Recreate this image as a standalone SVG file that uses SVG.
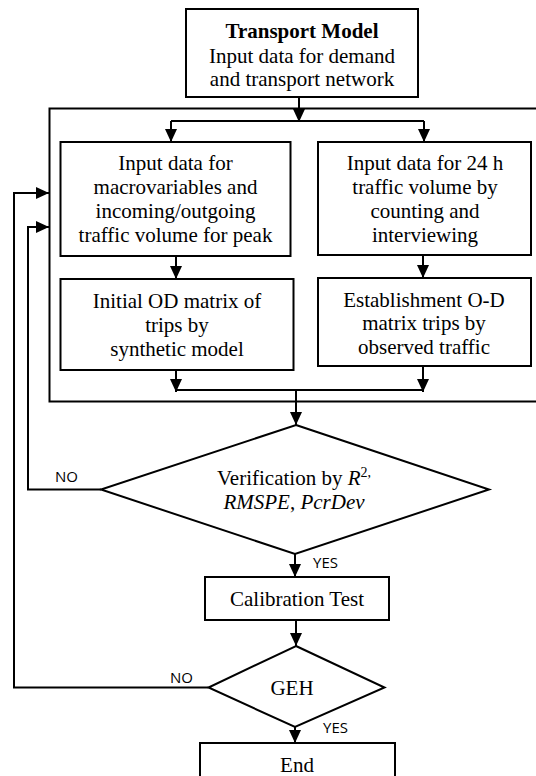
<svg xmlns="http://www.w3.org/2000/svg" width="536" height="776" viewBox="0 0 536 776">
<defs>
<style>
.box{fill:#fff;stroke:#000;stroke-width:2}
.frame{fill:none;stroke:#000;stroke-width:2}
.t{font-family:"Liberation Serif","Times New Roman",serif;font-size:21px;fill:#000;text-anchor:middle}
.b{font-weight:bold}
.i{font-style:italic}
.lbl{font-family:"Open Sans","Liberation Sans",sans-serif;font-size:15px;fill:#000}
.c{fill:none;stroke:#000;stroke-width:2}
</style>
<marker id="ah" markerUnits="userSpaceOnUse" markerWidth="13" markerHeight="12" refX="13" refY="6" orient="auto">
<path d="M0,0 L13,6 L0,12 z" fill="#000"/>
</marker>
</defs>
<rect width="536" height="776" fill="#fff"/>

<g id="frame">
<rect class="frame" x="49.5" y="108.5" width="500" height="293"/>
</g>

<g id="connectors">
<path class="c" d="M299,97 V122" marker-end="url(#ah)"/>
<path class="c" d="M171,121 H424"/>
<path class="c" d="M171,121 V142" marker-end="url(#ah)"/>
<path class="c" d="M424,121 V142" marker-end="url(#ah)"/>
<path class="c" d="M176,256 V279" marker-end="url(#ah)"/>
<path class="c" d="M423,255 V278" marker-end="url(#ah)"/>
<path class="c" d="M176,370 V392" marker-end="url(#ah)"/>
<path class="c" d="M423,366 V392" marker-end="url(#ah)"/>
<path class="c" d="M176,390 H423"/>
<path class="c" d="M296,390 V425" marker-end="url(#ah)"/>
<path class="c" d="M295,554 V577" marker-end="url(#ah)"/>
<path class="c" d="M296,620 V646" marker-end="url(#ah)"/>
<path class="c" d="M295,727 V743" marker-end="url(#ah)"/>
<path class="c" d="M101,489.5 H28 V227 H49" marker-end="url(#ah)"/>
<path class="c" d="M208.5,687.5 H14 V193 H49" marker-end="url(#ah)"/>
<text class="lbl" x="55" y="482">NO</text>
<text class="lbl" x="313" y="568">YES</text>
<text class="lbl" x="170" y="683">NO</text>
<text class="lbl" x="323" y="733">YES</text>
</g>

<g id="transport-model">
<rect class="box" x="186" y="9" width="232" height="88"/>
<text class="t b" x="302" y="38">Transport Model</text>
<text class="t" x="302" y="63">Input data for demand</text>
<text class="t" x="302" y="86">and transport network</text>
</g>

<g id="macro-input">
<rect class="box" x="60.5" y="142" width="230" height="114"/>
<text class="t" x="175.5" y="170">Input data for</text>
<text class="t" x="175.5" y="194">macrovariables and</text>
<text class="t" x="175.5" y="218">incoming/outgoing</text>
<text class="t" x="175.5" y="242">traffic volume for peak</text>
</g>

<g id="traffic-input">
<rect class="box" x="318" y="142" width="213" height="113"/>
<text class="t" x="425" y="170">Input data for 24 h</text>
<text class="t" x="425" y="194">traffic volume by</text>
<text class="t" x="425" y="218">counting and</text>
<text class="t" x="425" y="242">interviewing</text>
</g>

<g id="initial-od">
<rect class="box" x="60.5" y="279" width="233" height="91"/>
<text class="t" x="177" y="308">Initial OD matrix of</text>
<text class="t" x="177" y="332">trips by</text>
<text class="t" x="177" y="356">synthetic model</text>
</g>

<g id="observed-od">
<rect class="box" x="318" y="278" width="213" height="88"/>
<text class="t" x="424" y="307">Establishment O-D</text>
<text class="t" x="424" y="330">matrix trips by</text>
<text class="t" x="424" y="354">observed traffic</text>
</g>

<g id="verification">
<polygon class="box" points="296,425 489,489.5 295,554 101,489.5"/>
<text class="t" x="294" y="485">Verification by <tspan class="i">R</tspan><tspan font-size="14" dy="-8">2,</tspan></text>
<text class="t" x="294" y="509"><tspan class="i">RMSPE</tspan>, <tspan class="i">PcrDev</tspan></text>
</g>

<g id="calibration">
<rect class="box" x="205" y="577" width="184" height="43"/>
<text class="t" x="297" y="606">Calibration Test</text>
</g>

<g id="geh">
<polygon class="box" points="296,646 384.5,687.5 295,727 208.5,687.5"/>
<text class="t" x="292" y="695">GEH</text>
</g>

<g id="end">
<rect class="box" x="200" y="743" width="195" height="45"/>
<text class="t" x="297" y="772">End</text>
</g>
</svg>
